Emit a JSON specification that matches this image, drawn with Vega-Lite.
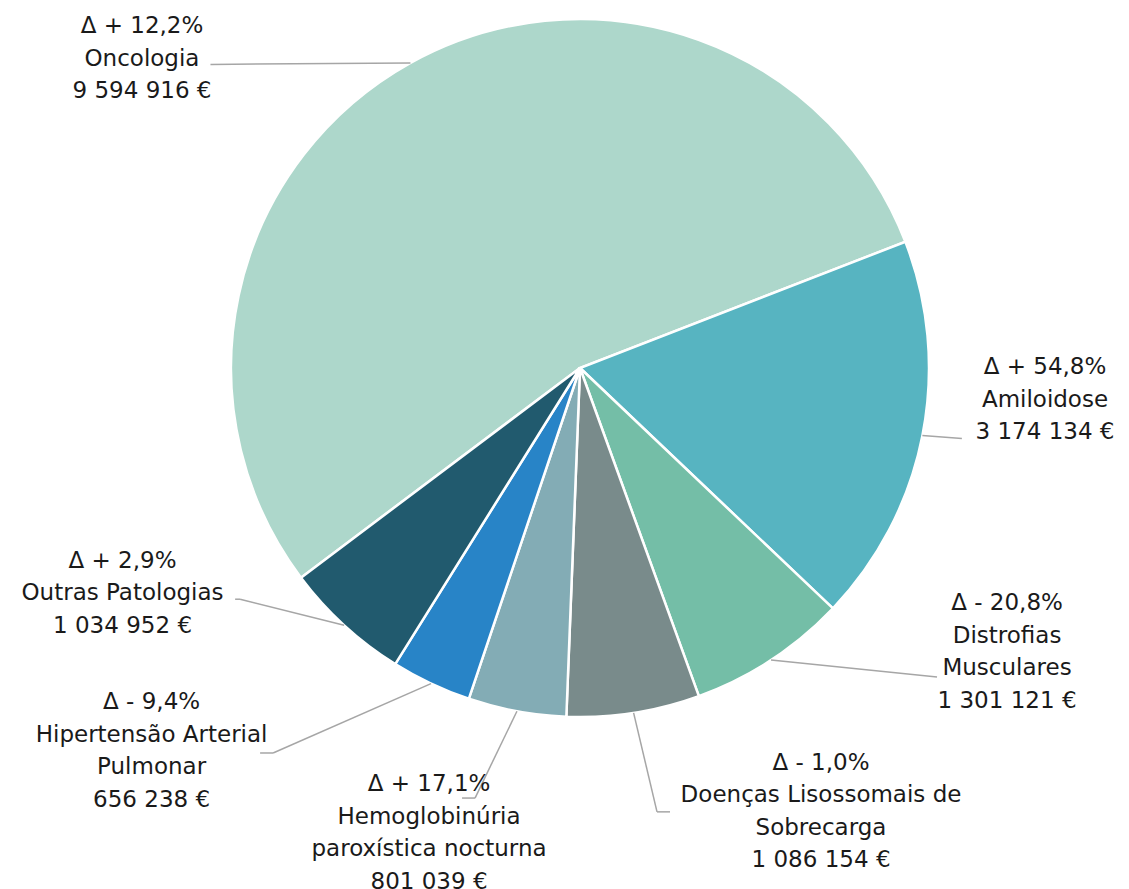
{
  "$schema": "https://vega.github.io/schema/vega-lite/v6.json",
  "width": 1098,
  "height": 736,
  "autosize": {"type": "none"},
  "padding": {"left": 31, "top": 0, "right": 0, "bottom": 153},
  "background": "white",
  "config": {"view": {"stroke": null}},
  "data": {"values": [
    {"cat": "Oncologia", "name": "Oncologia", "value": 9594916, "delta": 12.2},
    {"cat": "Amiloidose", "name": "Amiloidose", "value": 3174134, "delta": 54.8},
    {"cat": "Distrofias Musculares", "name": "Distrofias\nMusculares", "value": 1301121, "delta": -20.8},
    {"cat": "Doenças Lisossomais de Sobrecarga", "name": "Doenças Lisossomais de\nSobrecarga", "value": 1086154, "delta": -1.0},
    {"cat": "Hemoglobinúria paroxística nocturna", "name": "Hemoglobinúria\nparoxística nocturna", "value": 801039, "delta": 17.1},
    {"cat": "Hipertensão Arterial Pulmonar", "name": "Hipertensão Arterial\nPulmonar", "value": 656238, "delta": -9.4},
    {"cat": "Outras Patologias", "name": "Outras Patologias", "value": 1034952, "delta": 2.9}
  ]},
  "transform": [
    {"joinaggregate": [{"op": "sum", "field": "value", "as": "total"}]},
    {"window": [{"op": "sum", "field": "value", "as": "s1"}], "frame": [null, 0]},
    {"calculate": "datum.s1 - datum.value", "as": "s0"},
    {"calculate": "-2.2152 + PI * (datum.s0 + datum.s1) / datum.total", "as": "mid"},
    {"calculate": "sin(datum.mid)", "as": "ex"},
    {"calculate": "cos(datum.mid)", "as": "ey"},
    {"calculate": "'Δ ' + (datum.delta < 0 ? '- ' : '+ ') + replace(format(abs(datum.delta), '.1f'), '.', ',') + '%\\n' + datum.name + '\\n' + join(split(format(datum.value, ',.0f'), ','), ' ') + ' €'", "as": "label"}
  ],
  "layer": [
    {
      "mark": {"type": "arc", "radius": 349, "stroke": "white", "strokeWidth": 2.5},
      "encoding": {
        "theta": {"field": "value", "type": "quantitative", "stack": true, "scale": {"range": [-2.2152, 4.068]}},
        "order": {"field": "s0", "type": "quantitative"},
        "color": {
          "field": "cat", "type": "nominal", "legend": null,
          "scale": {
            "domain": ["Oncologia", "Amiloidose", "Distrofias Musculares", "Doenças Lisossomais de Sobrecarga", "Hemoglobinúria paroxística nocturna", "Hipertensão Arterial Pulmonar", "Outras Patologias"],
            "range": ["#ADD7CB", "#57B4C1", "#74BEA7", "#798B8B", "#83ACB5", "#2884C7", "#215A6E"]
          }
        }
      }
    },
    {
      "transform": [{"filter": "datum.cat === 'Oncologia'"}],
      "mark": {"type": "rule", "color": "#A6A6A6", "strokeWidth": 1.5, "x2Offset": -200, "y2Offset": 1.5},
      "encoding": {
        "x": {"field": "ex", "type": "quantitative", "scale": {"domain": [-1.57307, 1.57307], "nice": false, "zero": false}, "axis": null},
        "y": {"field": "ey", "type": "quantitative", "scale": {"domain": [-1.05444, 1.05444], "nice": false, "zero": false}, "axis": null},
        "x2": {"field": "ex"}, "y2": {"field": "ey"}
      }
    },
    {
      "transform": [{"filter": "datum.cat === 'Amiloidose'"}],
      "mark": {"type": "rule", "color": "#A6A6A6", "strokeWidth": 1.5, "x2Offset": 39.5, "y2Offset": 3},
      "encoding": {
        "x": {"field": "ex", "type": "quantitative"}, "y": {"field": "ey", "type": "quantitative"},
        "x2": {"field": "ex"}, "y2": {"field": "ey"}
      }
    },
    {
      "transform": [{"filter": "datum.cat === 'Distrofias Musculares'"}],
      "mark": {"type": "rule", "color": "#A6A6A6", "strokeWidth": 1.5, "x2Offset": 166, "y2Offset": 17},
      "encoding": {
        "x": {"field": "ex", "type": "quantitative"}, "y": {"field": "ey", "type": "quantitative"},
        "x2": {"field": "ex"}, "y2": {"field": "ey"}
      }
    },
    {
      "transform": [{"filter": "datum.cat === 'Doenças Lisossomais de Sobrecarga'"}],
      "mark": {"type": "rule", "color": "#A6A6A6", "strokeWidth": 1.5, "x2Offset": 23.4, "y2Offset": 99},
      "encoding": {
        "x": {"field": "ex", "type": "quantitative"}, "y": {"field": "ey", "type": "quantitative"},
        "x2": {"field": "ex"}, "y2": {"field": "ey"}
      }
    },
    {
      "transform": [{"filter": "datum.cat === 'Doenças Lisossomais de Sobrecarga'"}],
      "mark": {"type": "rule", "color": "#A6A6A6", "strokeWidth": 1.5, "xOffset": 23.4, "yOffset": 99, "x2Offset": 36.4, "y2Offset": 99},
      "encoding": {
        "x": {"field": "ex", "type": "quantitative"}, "y": {"field": "ey", "type": "quantitative"},
        "x2": {"field": "ex"}, "y2": {"field": "ey"}
      }
    },
    {
      "transform": [{"filter": "datum.cat === 'Hemoglobinúria paroxística nocturna'"}],
      "mark": {"type": "rule", "color": "#A6A6A6", "strokeWidth": 1.5, "x2Offset": -41.9, "y2Offset": 86.8},
      "encoding": {
        "x": {"field": "ex", "type": "quantitative"}, "y": {"field": "ey", "type": "quantitative"},
        "x2": {"field": "ex"}, "y2": {"field": "ey"}
      }
    },
    {
      "transform": [{"filter": "datum.cat === 'Hemoglobinúria paroxística nocturna'"}],
      "mark": {"type": "rule", "color": "#A6A6A6", "strokeWidth": 1.5, "xOffset": -41.9, "yOffset": 86.8, "x2Offset": -54.9, "y2Offset": 86.8},
      "encoding": {
        "x": {"field": "ex", "type": "quantitative"}, "y": {"field": "ey", "type": "quantitative"},
        "x2": {"field": "ex"}, "y2": {"field": "ey"}
      }
    },
    {
      "transform": [{"filter": "datum.cat === 'Hipertensão Arterial Pulmonar'"}],
      "mark": {"type": "rule", "color": "#A6A6A6", "strokeWidth": 1.5, "x2Offset": -157.9, "y2Offset": 69.4},
      "encoding": {
        "x": {"field": "ex", "type": "quantitative"}, "y": {"field": "ey", "type": "quantitative"},
        "x2": {"field": "ex"}, "y2": {"field": "ey"}
      }
    },
    {
      "transform": [{"filter": "datum.cat === 'Hipertensão Arterial Pulmonar'"}],
      "mark": {"type": "rule", "color": "#A6A6A6", "strokeWidth": 1.5, "xOffset": -157.9, "yOffset": 69.4, "x2Offset": -170.9, "y2Offset": 69.4},
      "encoding": {
        "x": {"field": "ex", "type": "quantitative"}, "y": {"field": "ey", "type": "quantitative"},
        "x2": {"field": "ex"}, "y2": {"field": "ey"}
      }
    },
    {
      "transform": [{"filter": "datum.cat === 'Outras Patologias'"}],
      "mark": {"type": "rule", "color": "#A6A6A6", "strokeWidth": 1.5, "x2Offset": -104, "y2Offset": -26},
      "encoding": {
        "x": {"field": "ex", "type": "quantitative"}, "y": {"field": "ey", "type": "quantitative"},
        "x2": {"field": "ex"}, "y2": {"field": "ey"}
      }
    },
    {
      "transform": [{"filter": "datum.cat === 'Outras Patologias'"}],
      "mark": {"type": "rule", "color": "#A6A6A6", "strokeWidth": 1.5, "xOffset": -104, "yOffset": -26, "x2Offset": -109, "y2Offset": -26},
      "encoding": {
        "x": {"field": "ex", "type": "quantitative"}, "y": {"field": "ey", "type": "quantitative"},
        "x2": {"field": "ex"}, "y2": {"field": "ey"}
      }
    },
    {
      "transform": [{"filter": "datum.cat === 'Oncologia'"}],
      "mark": {"type": "text", "dx": -268.5, "dy": -36.5, "align": "center", "baseline": "middle", "lineBreak": "\n", "font": "DejaVu Sans", "fontSize": 23, "lineHeight": 32.5, "color": "#1A1A1A"},
      "encoding": {"x": {"field": "ex", "type": "quantitative"}, "y": {"field": "ey", "type": "quantitative"}, "text": {"field": "label"}}
    },
    {
      "transform": [{"filter": "datum.cat === 'Amiloidose'"}],
      "mark": {"type": "text", "dx": 122.6, "dy": -68.2, "align": "center", "baseline": "middle", "lineBreak": "\n", "font": "DejaVu Sans", "fontSize": 23, "lineHeight": 32.5, "color": "#1A1A1A"},
      "encoding": {"x": {"field": "ex", "type": "quantitative"}, "y": {"field": "ey", "type": "quantitative"}, "text": {"field": "label"}}
    },
    {
      "transform": [{"filter": "datum.cat === 'Distrofias Musculares'"}],
      "mark": {"type": "text", "dx": 236, "dy": -56.75, "align": "center", "baseline": "middle", "lineBreak": "\n", "font": "DejaVu Sans", "fontSize": 23, "lineHeight": 32.5, "color": "#1A1A1A"},
      "encoding": {"x": {"field": "ex", "type": "quantitative"}, "y": {"field": "ey", "type": "quantitative"}, "text": {"field": "label"}}
    },
    {
      "transform": [{"filter": "datum.cat === 'Doenças Lisossomais de Sobrecarga'"}],
      "mark": {"type": "text", "dx": 187.4, "dy": 49.85, "align": "center", "baseline": "middle", "lineBreak": "\n", "font": "DejaVu Sans", "fontSize": 23, "lineHeight": 32.5, "color": "#1A1A1A"},
      "encoding": {"x": {"field": "ex", "type": "quantitative"}, "y": {"field": "ey", "type": "quantitative"}, "text": {"field": "label"}}
    },
    {
      "transform": [{"filter": "datum.cat === 'Hemoglobinúria paroxística nocturna'"}],
      "mark": {"type": "text", "dx": -87.9, "dy": 72.75, "align": "center", "baseline": "middle", "lineBreak": "\n", "font": "DejaVu Sans", "fontSize": 23, "lineHeight": 32.5, "color": "#1A1A1A"},
      "encoding": {"x": {"field": "ex", "type": "quantitative"}, "y": {"field": "ey", "type": "quantitative"}, "text": {"field": "label"}}
    },
    {
      "transform": [{"filter": "datum.cat === 'Hipertensão Arterial Pulmonar'"}],
      "mark": {"type": "text", "dx": -279.4, "dy": 18.65, "align": "center", "baseline": "middle", "lineBreak": "\n", "font": "DejaVu Sans", "fontSize": 23, "lineHeight": 32.5, "color": "#1A1A1A"},
      "encoding": {"x": {"field": "ex", "type": "quantitative"}, "y": {"field": "ey", "type": "quantitative"}, "text": {"field": "label"}}
    },
    {
      "transform": [{"filter": "datum.cat === 'Outras Patologias'"}],
      "mark": {"type": "text", "dx": -221.6, "dy": -64.7, "align": "center", "baseline": "middle", "lineBreak": "\n", "font": "DejaVu Sans", "fontSize": 23, "lineHeight": 32.5, "color": "#1A1A1A"},
      "encoding": {"x": {"field": "ex", "type": "quantitative"}, "y": {"field": "ey", "type": "quantitative"}, "text": {"field": "label"}}
    }
  ]
}
